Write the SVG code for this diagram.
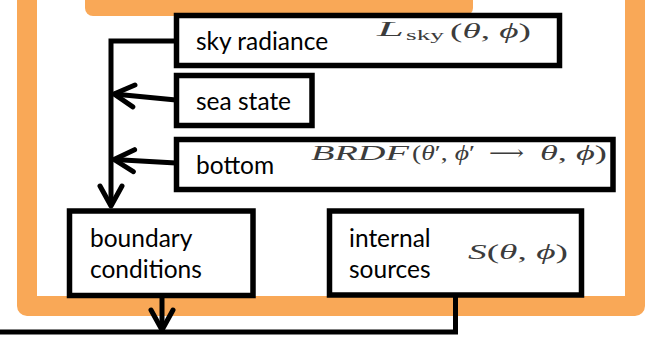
<svg xmlns="http://www.w3.org/2000/svg" width="645" height="340" viewBox="0 0 645 340">
  <defs>
    <style>
      .frame { fill: none; stroke: #F9A857; stroke-width: 20; stroke-linejoin: round; }
      .box { fill: #ffffff; stroke: #000000; stroke-width: 5.5; }
      .label { font-family: Lato, "Open Sans", "Liberation Sans", sans-serif; font-size: 24.5px; fill: #000000; }
      .math { font-family: "Liberation Serif", "DejaVu Serif", serif; font-size: 21px; fill: #3c3c3c; }
      .sub { font-size: 15px; }
      .it { font-style: italic; }
      .wire { fill: none; stroke: #000000; stroke-width: 5; stroke-linejoin: miter; }
    </style>
    <marker id="chevron" viewBox="-24 -14 28 28" refX="0" refY="0" markerWidth="28" markerHeight="28" markerUnits="userSpaceOnUse" orient="auto">
      <path d="M-20,-11 L0,0 L-20,11" fill="none" stroke="#000000" stroke-width="5" stroke-linecap="round" stroke-linejoin="round"/>
    </marker>
  </defs>

  <!-- outer orange frame and the tab at the top -->
  <g id="frame">
    <rect x="85" y="-20" width="388" height="36" rx="8" fill="#F9A857"/>
    <path class="frame" d="M27,-20 L27,306 L635,306 L635,-20"/>
  </g>

  <!-- connectors -->
  <g id="connectors">
    <path class="wire" d="M176,41 L111,41 L111,206" marker-end="url(#chevron)"/>
    <path class="wire" d="M176,100 L114,94" marker-end="url(#chevron)"/>
    <path class="wire" d="M176,163 L114,159.5" marker-end="url(#chevron)"/>
    <path class="wire" d="M162,298 L162,330" marker-end="url(#chevron)"/>
    <path class="wire" d="M455.5,297 L455.5,332 L-5,332"/>
  </g>

  <g id="sky-radiance">
    <rect class="box" x="176.5" y="15.5" width="383" height="50"/>
    <text class="label" x="196" y="50">sky radiance</text>
    <text class="math it" x="377" y="36" textLength="27" lengthAdjust="spacingAndGlyphs">L</text>
    <text class="math sub" x="406" y="40" textLength="38" lengthAdjust="spacingAndGlyphs">sky</text>
    <text class="math" x="450" y="38" textLength="81" lengthAdjust="spacingAndGlyphs">(<tspan class="it">θ</tspan>, <tspan class="it">ϕ</tspan>)</text>
  </g>

  <g id="sea-state">
    <rect class="box" x="176.5" y="75.5" width="135.5" height="50"/>
    <text class="label" x="196" y="110">sea state</text>
  </g>

  <g id="bottom">
    <rect class="box" x="176.5" y="139.5" width="436.5" height="50"/>
    <text class="label" x="196" y="174">bottom</text>
    <text class="math it" x="311" y="160" textLength="98" lengthAdjust="spacingAndGlyphs">BRDF</text>
    <text class="math" x="412" y="160" textLength="63" lengthAdjust="spacingAndGlyphs">(<tspan class="it">θ</tspan>′, <tspan class="it">ϕ</tspan>′</text>
    <text class="math" x="489" y="160" textLength="35" lengthAdjust="spacingAndGlyphs">⟶</text>
    <text class="math" x="540" y="160" textLength="67" lengthAdjust="spacingAndGlyphs"><tspan class="it">θ</tspan>, <tspan class="it">ϕ</tspan>)</text>
  </g>

  <g id="boundary-conditions">
    <rect class="box" x="69.5" y="211" width="183.5" height="84.5"/>
    <text class="label" x="90" y="247">boundary</text>
    <text class="label" x="90" y="278">conditions</text>
  </g>

  <g id="internal-sources">
    <rect class="box" x="329.5" y="211" width="252" height="84"/>
    <text class="label" x="349" y="247">internal</text>
    <text class="label" x="349" y="278">sources</text>
    <text class="math" x="468" y="259" textLength="100" lengthAdjust="spacingAndGlyphs"><tspan class="it">S</tspan>(<tspan class="it">θ</tspan>, <tspan class="it">ϕ</tspan>)</text>
  </g>
</svg>
